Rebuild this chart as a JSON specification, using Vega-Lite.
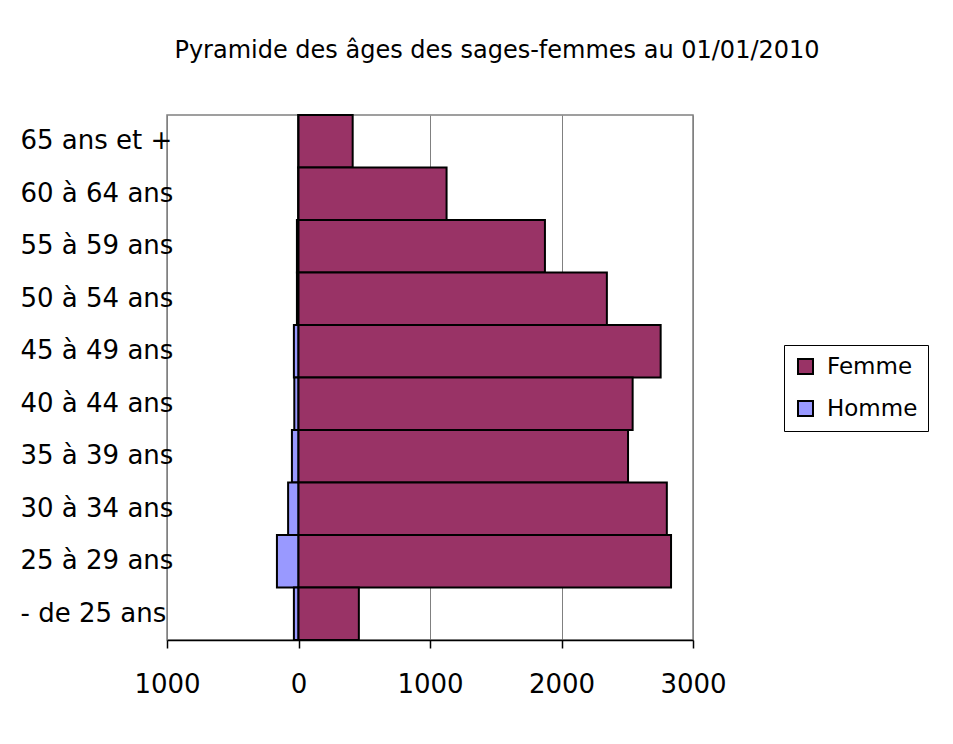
{
  "$schema": "https://vega.github.io/schema/vega-lite/v6.json",
  "autosize": {"type": "none"},
  "padding": {"left": 167, "top": 115, "right": 260, "bottom": 104},
  "width": 526,
  "height": 525,
  "background": "white",
  "title": {
    "text": "Pyramide des âges des sages-femmes au 01/01/2010",
    "font": "DejaVu Sans",
    "fontSize": 24,
    "fontWeight": "normal",
    "color": "black",
    "anchor": "middle",
    "baseline": "alphabetic",
    "offset": 32,
    "dx": 67
  },
  "data": {
    "values": [
      {"age": "65 ans et +", "sexe": "Homme", "effectif": -2},
      {"age": "60 à 64 ans", "sexe": "Homme", "effectif": -3},
      {"age": "55 à 59 ans", "sexe": "Homme", "effectif": -12},
      {"age": "50 à 54 ans", "sexe": "Homme", "effectif": -12},
      {"age": "45 à 49 ans", "sexe": "Homme", "effectif": -35},
      {"age": "40 à 44 ans", "sexe": "Homme", "effectif": -32},
      {"age": "35 à 39 ans", "sexe": "Homme", "effectif": -50},
      {"age": "30 à 34 ans", "sexe": "Homme", "effectif": -79},
      {"age": "25 à 29 ans", "sexe": "Homme", "effectif": -164},
      {"age": "- de 25 ans", "sexe": "Homme", "effectif": -35},
      {"age": "65 ans et +", "sexe": "Femme", "effectif": 412},
      {"age": "60 à 64 ans", "sexe": "Femme", "effectif": 1126},
      {"age": "55 à 59 ans", "sexe": "Femme", "effectif": 1874},
      {"age": "50 à 54 ans", "sexe": "Femme", "effectif": 2345},
      {"age": "45 à 49 ans", "sexe": "Femme", "effectif": 2754},
      {"age": "40 à 44 ans", "sexe": "Femme", "effectif": 2541},
      {"age": "35 à 39 ans", "sexe": "Femme", "effectif": 2506},
      {"age": "30 à 34 ans", "sexe": "Femme", "effectif": 2801},
      {"age": "25 à 29 ans", "sexe": "Femme", "effectif": 2833},
      {"age": "- de 25 ans", "sexe": "Femme", "effectif": 459}
    ]
  },
  "mark": {"type": "bar", "stroke": "black", "strokeWidth": 2, "opacity": 1},
  "encoding": {
    "y": {
      "field": "age",
      "type": "nominal",
      "sort": ["65 ans et +", "60 à 64 ans", "55 à 59 ans", "50 à 54 ans", "45 à 49 ans", "40 à 44 ans", "35 à 39 ans", "30 à 34 ans", "25 à 29 ans", "- de 25 ans"],
      "scale": {"paddingInner": 0, "paddingOuter": 0},
      "axis": {
        "title": null,
        "domain": false,
        "ticks": false,
        "labelAlign": "left",
        "labelPadding": 147,
        "labelFont": "DejaVu Sans",
        "labelFontSize": 26,
        "labelColor": "black",
        "labelBaseline": "middle"
      }
    },
    "x": {
      "field": "effectif",
      "type": "quantitative",
      "stack": null,
      "scale": {"domain": [-1000, 3000], "nice": false},
      "axis": {
        "title": null,
        "values": [-1000, 0, 1000, 2000, 3000],
        "labelExpr": "format(abs(datum.value), 'd')",
        "grid": true,
        "gridColor": "#808080",
        "gridWidth": 1,
        "gridOpacity": 1,
        "domain": true,
        "domainColor": "black",
        "domainWidth": 1.5,
        "ticks": true,
        "tickColor": "black",
        "tickSize": 8,
        "tickWidth": 1.5,
        "labelPadding": 23,
        "labelFont": "DejaVu Sans",
        "labelFontSize": 26,
        "labelColor": "black",
        "labelFlush": false,
        "labelOverlap": false
      }
    },
    "color": {
      "field": "sexe",
      "type": "nominal",
      "scale": {"domain": ["Femme", "Homme"], "range": ["#993366", "#9999FF"]},
      "legend": {
        "title": null,
        "orient": "none",
        "legendX": 617,
        "legendY": 230,
        "strokeColor": "black",
        "fillColor": "white",
        "padding": 10,
        "symbolType": "square",
        "symbolSize": 225,
        "symbolStrokeColor": "black",
        "symbolStrokeWidth": 2,
        "symbolOpacity": 1,
        "labelFont": "DejaVu Sans",
        "labelFontSize": 23,
        "labelColor": "black",
        "labelOffset": 10,
        "rowPadding": 18,
        "labelLimit": 200
      }
    }
  },
  "config": {
    "view": {"stroke": "#808080", "strokeWidth": 1.5}
  }
}
